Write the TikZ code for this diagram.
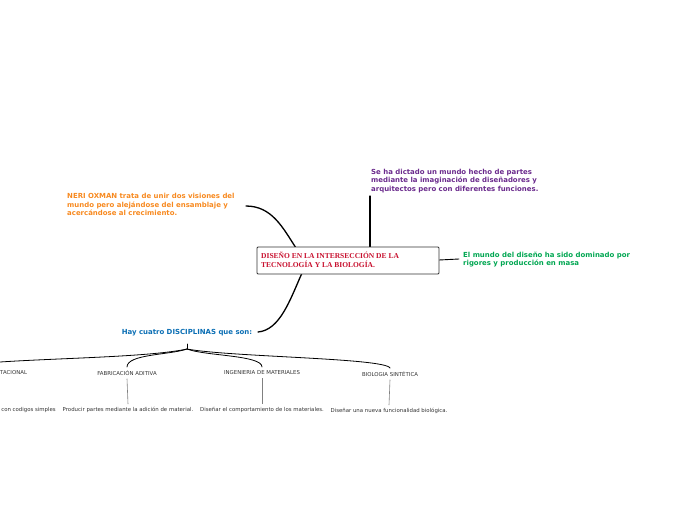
\documentclass[tikz,border=0pt]{standalone}
\usepackage{fontspec}
\setmainfont{DejaVu Sans}
\newfontfamily\titlefont{Liberation Serif}
\definecolor{cOrange}{HTML}{F7891F}
\definecolor{cPurple}{HTML}{6A2A8C}
\definecolor{cGreen}{HTML}{00A651}
\definecolor{cBlue}{HTML}{0A6EB4}
\definecolor{cRed}{HTML}{C8102E}
\definecolor{cGray}{HTML}{333333}
\tikzset{
  idea/.style={inner sep=0pt, align=left, font=\bfseries\fontsize{6.95}{8.5}\selectfont},
  small/.style={inner sep=0pt, text=cGray, font=\fontsize{5.4}{6}\selectfont},
  conn/.style={draw=black, line width=1.3pt, line cap=round},
  branch/.style={draw=black, line width=0.8pt, line cap=round},
  sub/.style={draw=gray, line width=0.6pt},
}
\begin{document}
\begin{tikzpicture}[x=1pt,y=-1pt]
\useasboundingbox (0,0) rectangle (696,520);
% connectors behind
\coordinate (oEnd) at (246,206);
\coordinate (oBox) at (296,248);
\coordinate (pEnd) at (370,196);
\coordinate (pBox) at (370,248);
\coordinate (gBox) at (439,260);
\coordinate (gEnd) at (459,259);
\coordinate (bEnd) at (258,332);
\coordinate (bBox) at (302,273);
\draw[conn] (oEnd) .. controls (272,206) and (283,228) .. (oBox);
\draw[conn] (pEnd) -- (pBox);
\draw[conn, line width=0.9pt] (gBox) -- (gEnd);
\draw[conn] (bEnd) .. controls (280,330) and (290,300) .. (bBox);
% central
\node[draw=black!80, fill=white, line width=0.8pt, rounded corners=1pt, minimum width=182pt, minimum height=27pt, inner sep=0pt] (main) at (348,260.5) {};
\node[inner sep=0pt, anchor=north west, align=left, text=cRed, font=\titlefont\bfseries\fontsize{7.5}{9}\selectfont] (title) at (261,251.5) {DISEÑO EN LA INTERSECCIÓN DE LA\\TECNOLOGÍA Y LA BIOLOGÍA.};
% ideas
\node[idea, text=cOrange, anchor=north west] (orange) at (67,193.2) {NERI OXMAN trata de unir dos visiones del\\mundo pero alejándose del ensamblaje y\\acercándose al crecimiento.};
\node[idea, text=cPurple, anchor=north west] (purple) at (371,169) {Se ha dictado un mundo hecho de partes\\mediante la imaginación de diseñadores y\\arquitectos pero con diferentes funciones.};
\node[idea, text=cGreen, anchor=north west] (green) at (463,251.5) {El mundo del diseño ha sido dominado por\\rigores y producción en masa};
\node[idea, text=cBlue] (blue) at (187,333) {Hay cuatro DISCIPLINAS que son:};
% branches
\coordinate (st) at (187,344);
\coordinate (sb) at (187,349);
\coordinate (lEnd) at (0,362);
\coordinate (fTop) at (127,367);
\coordinate (iTop) at (262,367);
\coordinate (bTop) at (390,368);
\draw[branch] (st) -- (sb);
\draw[branch] (sb) .. controls (150,357) and (60,358) .. (lEnd);
\draw[branch] (sb) .. controls (170,355) and (127,354) .. (fTop);
\draw[branch] (sb) .. controls (205,356) and (262,355) .. (iTop);
\draw[branch] (sb) .. controls (230,357) and (385,358) .. (bTop);
% disciplines
\node[small, anchor=west] (comp) at (0,373) {TACIONAL};
\node[small] (fab) at (127,373) {FABRICACIÓN ADITIVA};
\node[small] (ing) at (262,373) {INGENIERIA DE MATERIALES};
\node[small] (bio) at (390,374) {BIOLOGIA SINTÉTICA};
% descriptions
\node[small, anchor=east] (dcomp) at (56,410) {con codigos simples};
\node[small] (dfab) at (128,410) {Producir partes mediante la adición de material.};
\node[small] (ding) at (262,410) {Diseñar el comportamiento de los materiales.};
\node[small] (dbio) at (389,411) {Diseñar una nueva funcionalidad biológica.};
\draw[sub] ([yshift=-3pt]fab.south) -- ([yshift=3pt]dfab.north);
\draw[sub] ([yshift=-3pt]ing.south) -- ([yshift=3pt]ding.north);
\draw[sub] ([yshift=-3pt]bio.south) -- ([yshift=3pt]dbio.north);
\end{tikzpicture}
\end{document}
